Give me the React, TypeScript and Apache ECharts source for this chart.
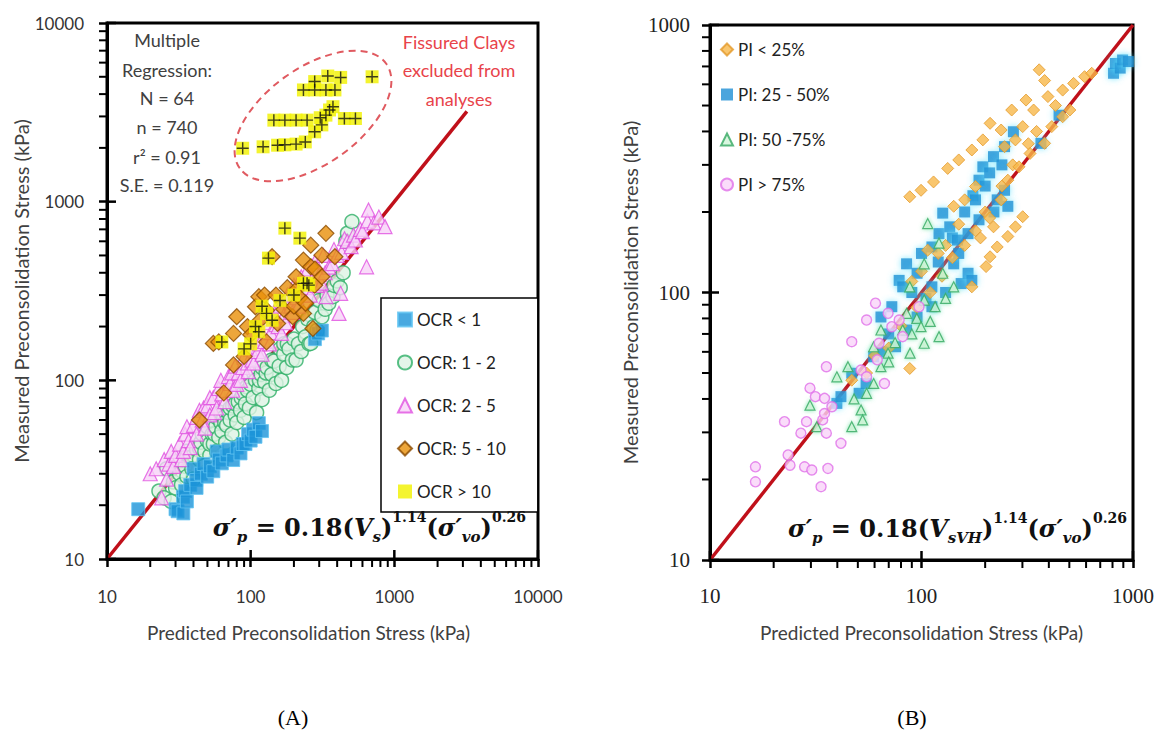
import React, { useEffect, useRef } from "react";
import * as echarts from "echarts";

// ---------- Panel A data: [predicted, measured] (kPa) ----------
const ocrLt1 = [[16.5,19],[30,19],[31,18.5],[34,18],[33.8,22.3],[35,24],[36,21],[38,26],[40,32],[41.8,27.7],[42,25],[45,30],[47,34],[49.8,28.9],[52,33],[55,31],[58,40],[60,36],[63,34.3],[68,38],[70,41],[75.6,35.8],[80,42],[85,39],[88,44],[92,44],[96,50],[100,46],[104,53],[108,48.3],[114,57.6],[120,52],[280,170],[295,183],[313,190]];
const ocr1to2 = [[23,24],[25,22],[26,32],[28,21],[29,27],[30,25],[30,35],[32,30],[33,26],[35,33],[36,29],[36,40],[38,37],[39,32],[40,28],[42,41],[44,36],[44,42],[45,45],[46,50],[47,33],[48,40],[50,46],[50,55],[52,38],[52,44],[54,50],[55,44],[56,50],[57,55],[58,40],[58,62],[60,48],[62,58],[62,66],[63,52],[65,62],[66,58],[67,45],[68,56],[70,66],[72,60],[72,70],[74,50],[75,72],[78,64],[78,74],[80,58],[82,76],[85,68],[86,80],[88,84],[90,62],[92,74],[94,92],[95,88],[98,70],[100,95],[104,80],[105,110],[108,100],[110,66],[114,90],[115,100],[118,108],[120,78],[120,118],[125,98],[128,110],[130,118],[135,88],[140,108],[140,130],[145,128],[150,96],[158,120],[160,150],[164,100],[170,140],[170,160],[178,118],[180,160],[185,150],[195,130],[200,170],[207,130],[215,160],[225,145],[230,200],[240,175],[250,220],[255,160],[262,161],[275,200],[280,240],[290,190],[300,280],[313,227],[330,250],[340,300],[350,270],[374,294],[380,340],[400,360],[420,330],[440,400],[460,600],[472,665],[507,773]];
const ocr2to5 = [[20,30],[22,32],[24,22],[25,36],[26,28],[27,34],[28,40],[29,33],[30,38],[32,44],[33,36],[34,40],[35,50],[36,55],[37,46],[38,42],[40,56],[42,50],[42,62],[44,68],[46,60],[47,70],[48,54],[50,72],[52,64],[52,80],[55,80],[56,66],[58,70],[60,90],[62,100],[63,84],[66,76],[68,88],[70,105],[72,96],[74,110],[75,88],[78,120],[80,95],[82,110],[85,100],[88,118],[90,135],[95,125],[96,112],[100,150],[102,130],[105,125],[108,170],[112,145],[115,160],[118,190],[120,140],[125,165],[130,210],[135,160],[138,185],[145,240],[150,205],[155,200],[160,260],[164,183],[170,230],[175,210],[180,300],[190,260],[195,240],[200,340],[210,290],[215,260],[225,380],[230,300],[240,330],[250,420],[260,300],[265,360],[280,460],[290,340],[300,390],[310,350],[320,500],[330,400],[334,294],[350,430],[370,450],[380,540],[400,500],[412,237],[423,307],[430,520],[450,620],[470,600],[500,560],[520,650],[536,610],[580,700],[600,680],[641,432],[650,780],[661,898],[720,760],[780,820],[861,725]];
const ocr5to10 = [[44,60],[55,161],[60,164],[65,85],[76,122],[76,183],[80,227],[90,136],[95,200],[100,180],[108,258],[114,294],[115,215],[125,300],[129,247],[129,164],[141,492],[150,300],[154,208],[170,250],[180,330],[196,227],[200,260],[207,320],[207,380],[220,290],[233,237],[233,471],[241,270],[262,432],[262,571],[271,195],[279,341],[280,420],[313,380],[313,502],[334,665],[386,492]];
const ocrGt10 = [[63,164],[90,150],[100,160],[108,200],[114,187],[120,260],[129,237],[133,483],[141,217],[160,280],[173,711],[200,300],[220,625],[233,349],[247,350],[254,341]];
const fissuredClays = [[88,1990],[122,2028],[145,2860],[154,2070],[173,2080],[173,2860],[207,2100],[207,2860],[233,4220],[240,2160],[247,2860],[279,2460],[279,4220],[279,4700],[305,2950],[313,2690],[334,3050],[334,4220],[344,5050],[354,3260],[374,3400],[386,4220],[423,4960],[449,2920],[536,2920],[700,5000]];

// ---------- Panel B data ----------
const piLt25 = [[46.8,47],[55,50],[60,58],[70,62],[80,75],[88,52],[88,228],[90,110],[95,88],[99.5,241],[100,120],[107,144],[110,100],[114,259],[120,140],[125,115],[130,150],[133,291],[140,135],[142,210],[150,180],[150,313],[160,150],[160,222],[173,105],[173,341],[180,170],[180,249],[190,160],[195,372],[200,200],[202,125],[210,190],[211,136],[211,429],[219,176],[228,148],[238,222],[238,405],[240,250],[247,351],[256,162],[256,263],[267,481],[270,300],[278,176],[278,372],[289,295],[301,192],[301,417],[312,524],[320,360],[326,331],[339,481],[350,400],[360,680],[382,361],[382,620],[396,540],[413,417],[430,500],[465,454],[465,571],[503,481],[524,605],[590,641],[638,660]];
const pi25to50 = [[39.8,38.5],[41.6,40.8],[46.8,49.9],[50.7,42],[54.7,45.7],[59.4,57.5],[64.3,81],[65,60],[70,70],[72.4,88.5],[75.4,62.7],[78.4,111],[81.5,105],[85,72.4],[85,128],[90,100],[95.3,81],[95.3,118],[100,140],[105,95],[112,88.5],[112,105],[112,148],[120,130],[121,166],[126,198],[130,100],[136,176],[140,160],[142,128],[148,157],[150,140],[154,108],[160,200],[166,118],[166,166],[173,111],[175,230],[180,222],[187,187],[187,263],[195,295],[200,250],[210,280],[219,322],[220,200],[228,222],[240,300],[247,241],[247,351],[256,210],[272,399],[367,361],[447,460],[809,660],[826,718],[870,690],[893,740],[950,730]];
const pi50to75 = [[29.7,37.9],[32,31.5],[39.8,48.4],[44.9,52.8],[46.8,31.5],[48,40],[51.8,36.4],[52.7,33.4],[55,42],[59.4,45.7],[59.4,62.7],[64.3,52.8],[64.3,72.4],[69.5,59.3],[70,55],[75,65],[81.5,72.4],[85,83.6],[88,105],[88.3,59.3],[90,70],[95,80],[99.5,74.5],[103,64.6],[103,93.7],[103,128],[107,181],[110,78],[116,88.5],[121,68.4],[121,153],[126,118],[130,95],[142,105]];
const piGt75 = [[16.4,19.6],[16.4,22.3],[22.5,32.9],[23.4,24.7],[23.9,22.6],[26.9,29.8],[28,22.3],[28.6,32.9],[29.7,43.9],[30.3,21.7],[31.5,40.8],[33.5,18.8],[34.1,33.4],[34.8,35.3],[34.8,40.2],[35.5,29.8],[35.5,52.8],[36.1,22],[37.7,37.4],[41.6,27.3],[46.8,65.5],[51.8,51.3],[55,48.4],[55,78.9],[60.6,91.2],[61.8,56],[63,64.6],[66.8,45.7],[69.5,83.6],[72.4,74.5],[78.4,78.9],[81.5,68.4],[97.3,88.5]];

// 1:1 lines
const diagonalA = [10, 3200];
const diagonalB = [10, 1000];

// axis ranges and tick values
const rangeA = [10, 10000];
const rangeB = [10, 1000];
const majorTicksA = [10, 100, 1000, 10000];
const majorTicksB = [10, 100, 1000];
const minorTicksA = [20,30,40,50,60,70,80,90,200,300,400,500,600,700,800,900,2000,3000,4000,5000,6000,7000,8000,9000];
const minorTicksB = [20,30,40,50,60,70,80,90,200,300,400,500,600,700,800,900];

const legendA = ["OCR < 1", "OCR: 1 - 2", "OCR: 2 - 5", "OCR: 5 - 10", "OCR > 10"];
const legendB = ["PI < 25%", "PI: 25 - 50%", "PI: 50 -75%", "PI > 75%"];

const regressionLines = ["Multiple", "Regression:", "N = 64", "n = 740", "r² = 0.91", "S.E. = 0.119"];
const fissuredLines = ["Fissured Clays", "excluded from", "analyses"];

const SANS = "Lato, 'Open Sans', sans-serif";
const SERIF = "'Liberation Serif', 'DejaVu Serif', serif";
const MATH = "'DejaVu Serif', 'Liberation Serif', serif";

function axisCommon(range: number[], labelFont: any, margin: number) {
  return {
    type: "log",
    logBase: 10,
    min: range[0],
    max: range[1],
    axisLine: { lineStyle: { color: "#000", width: 3 } },
    axisTick: { show: true, inside: false, length: 8, lineStyle: { color: "#000", width: 2.5 } },
    axisLabel: { ...labelFont, margin, formatter: (v: number) => String(v) },
    splitLine: { show: false },
    nameLocation: "middle",
  };
}

const formulaRich = {
  a: { fontFamily: MATH, fontStyle: "italic", fontWeight: "bold", fontSize: 24, lineHeight: 34, verticalAlign: "middle", fill: "#111" },
  n: { fontFamily: MATH, fontWeight: "bold", fontSize: 24, lineHeight: 34, verticalAlign: "middle", fill: "#111" },
  sup: { fontFamily: MATH, fontWeight: "bold", fontSize: 14, lineHeight: 15, verticalAlign: "top", fill: "#111" },
  sub: { fontFamily: MATH, fontStyle: "italic", fontWeight: "bold", fontSize: 15, lineHeight: 14, verticalAlign: "bottom", fill: "#111" },
};

export default function App() {
  const ref = useRef<HTMLDivElement>(null);
  useEffect(() => {
    if (!ref.current) return;
    const chart = echarts.init(ref.current, null, { renderer: "svg" });
    const labelA = { fontFamily: SANS, fontSize: 17, color: "#333" };
    const labelB = { fontFamily: SERIF, fontSize: 21, color: "#222" };
    const nameStyle = { fontFamily: SANS, fontSize: 19, color: "#404040" };
    const nameStyleY = { fontFamily: SANS, fontSize: 20, color: "#404040" };

    const baseGraphics: any[] = [
      ...regressionLines.map((t, i) => ({
        type: "text",
        x: 167,
        y: [40, 70, 98, 127, 157, 185][i],
        style: { text: t, align: "center", verticalAlign: "middle", fontFamily: SANS, fontSize: 18, fill: "#404040" },
        z: 10,
      })),
      ...fissuredLines.map((t, i) => ({
        type: "text",
        x: 459,
        y: [42, 70, 99][i],
        style: { text: t, align: "center", verticalAlign: "middle", fontFamily: SANS, fontSize: 18, fill: "#E8434A" },
        z: 10,
      })),
      {
        type: "ellipse",
        x: 313,
        y: 116,
        rotation: 0.62,
        shape: { cx: 0, cy: 0, rx: 90, ry: 48 },
        style: { fill: "none", stroke: "#E05A60", lineWidth: 2, lineDash: [7, 5] },
        z: 10,
      },
      {
        type: "text",
        x: 526,
        y: 527,
        style: {
          text: "{a|σ′}{sub|p}{n| = 0.18(}{a|V}{sub|s}{n|)}{sup|1.14}{n|(}{a|σ′}{sub|vo}{n|)}{sup|0.26}",
          rich: formulaRich,
          align: "right",
          verticalAlign: "middle",
        },
        z: 10,
      },
      {
        type: "text",
        x: 1127,
        y: 528,
        style: {
          text: "{a|σ′}{sub|p}{n| = 0.18(}{a|V}{sub|sVH}{n|)}{sup|1.14}{n|(}{a|σ′}{sub|vo}{n|)}{sup|0.26}",
          rich: formulaRich,
          align: "right",
          verticalAlign: "middle",
        },
        z: 10,
      },
      { type: "text", x: 293, y: 717, style: { text: "(A)", align: "center", verticalAlign: "middle", fontFamily: SERIF, fontSize: 22, fill: "#000" } },
      { type: "text", x: 912, y: 717, style: { text: "(B)", align: "center", verticalAlign: "middle", fontFamily: SERIF, fontSize: 22, fill: "#000" } },
    ];

    const option: any = {
      animation: false,
      backgroundColor: "#fff",
      grid: [
        { left: 107, top: 23, width: 431, height: 536, show: true, borderColor: "#000", borderWidth: 3, backgroundColor: "transparent" },
        { left: 710, top: 25, width: 423, height: 535, show: true, borderColor: "#000", borderWidth: 3, backgroundColor: "transparent" },
      ],
      xAxis: [
        { ...axisCommon(rangeA, labelA, 29), gridIndex: 0, name: "Predicted Preconsolidation Stress (kPa)", nameGap: 64, nameTextStyle: { ...nameStyle, padding: [0, 28, 0, 0] } },
        { ...axisCommon(rangeB, labelB, 25), gridIndex: 1, name: "Predicted Preconsolidation Stress (kPa)", nameGap: 63, nameTextStyle: nameStyle },
      ],
      yAxis: [
        { ...axisCommon(rangeA, labelA, 23), gridIndex: 0, name: "Measured Preconsolidation Stress (kPa)", nameGap: 71, nameTextStyle: nameStyleY },
        { ...axisCommon(rangeB, labelB, 20), gridIndex: 1, name: "Measured Preconsolidation Stress (kPa)", nameGap: 70, nameTextStyle: nameStyleY },
      ],
      legend: [
        {
          data: legendA.map((n) => ({ name: n })),
          orient: "vertical",
          left: 381,
          top: 298,
          padding: [13, 32, 12, 16],
          itemGap: 26,
          itemWidth: 14,
          itemHeight: 14,
          borderColor: "#000",
          borderWidth: 1.5,
          backgroundColor: "#fff",
          textStyle: { fontFamily: SANS, fontSize: 17, color: "#222" },
        },
        {
          data: legendB.map((n) => ({ name: n })),
          orient: "vertical",
          left: 720,
          top: 41,
          padding: 0,
          itemGap: 28,
          itemWidth: 12,
          itemHeight: 12,
          textStyle: { fontFamily: SANS, fontSize: 17, color: "#222" },
        },
      ],
      series: [
        // ---- Panel A ----
        { type: "line", xAxisIndex: 0, yAxisIndex: 0, data: diagonalA.map((v) => [v, v]), symbol: "none", lineStyle: { color: "#C0101A", width: 3.5 }, silent: true, z: 1 },
        { name: "OCR: 1 - 2", type: "scatter", xAxisIndex: 0, yAxisIndex: 0, data: ocr1to2, symbol: "circle", symbolSize: 14, itemStyle: { color: "#DDF3E3", borderColor: "#2EAF66", borderWidth: 1.5 }, z: 2 },
        { name: "OCR: 2 - 5", type: "scatter", xAxisIndex: 0, yAxisIndex: 0, data: ocr2to5, symbol: "triangle", symbolSize: 14, itemStyle: { color: "#F7D2F7", borderColor: "#E050E0", borderWidth: 1.2 }, z: 2 },
        { name: "OCR < 1", type: "scatter", xAxisIndex: 0, yAxisIndex: 0, data: ocrLt1, symbol: "rect", symbolSize: 13, itemStyle: { color: "#1C93D8", borderColor: "#62C4F2", borderWidth: 1 }, z: 2 },
        { name: "OCR: 5 - 10", type: "scatter", xAxisIndex: 0, yAxisIndex: 0, data: ocr5to10, symbol: "diamond", symbolSize: 16, itemStyle: { color: "#E8900A", borderColor: "#8A4A00", borderWidth: 1.2 }, z: 3 },
        { name: "OCR > 10", type: "scatter", xAxisIndex: 0, yAxisIndex: 0, data: ocrGt10, symbol: "rect", symbolSize: 13, itemStyle: { color: "#F2F20A", opacity: 0.85 }, z: 3 },
        { name: "OCR > 10", type: "scatter", xAxisIndex: 0, yAxisIndex: 0, data: fissuredClays, symbol: "rect", symbolSize: 13, itemStyle: { color: "#F2F20A", opacity: 0.85 }, z: 3 },
        { type: "scatter", xAxisIndex: 0, yAxisIndex: 0, data: ocrGt10.concat(fissuredClays), symbol: "path://M4.4,0h1.2v4.4h4.4v1.2h-4.4v4.4h-1.2v-4.4h-4.4v-1.2h4.4z", symbolSize: 12, itemStyle: { color: "#111" }, silent: true, z: 4 },
        // ---- Panel B ----
        { name: "PI: 25 - 50%", type: "scatter", xAxisIndex: 1, yAxisIndex: 1, data: pi25to50, symbol: "rect", symbolSize: 11, itemStyle: { color: "#1E8FD5", shadowBlur: 6, shadowColor: "rgba(90,225,255,0.9)" }, z: 2 },
        { name: "PI < 25%", type: "scatter", xAxisIndex: 1, yAxisIndex: 1, data: piLt25, symbol: "diamond", symbolSize: 12, itemStyle: { color: "#F7B84A", borderColor: "#E39A2A", borderWidth: 1 }, z: 2 },
        { type: "line", xAxisIndex: 1, yAxisIndex: 1, data: diagonalB.map((v) => [v, v]), symbol: "none", lineStyle: { color: "#C0101A", width: 3.5 }, silent: true, z: 2 },
        { name: "PI: 50 -75%", type: "scatter", xAxisIndex: 1, yAxisIndex: 1, data: pi50to75, symbol: "triangle", symbolSize: 10, itemStyle: { color: "#D0F5D8", borderColor: "#33A860", borderWidth: 1.2, shadowBlur: 4, shadowColor: "rgba(80,220,140,0.8)" }, z: 3 },
        { name: "PI > 75%", type: "scatter", xAxisIndex: 1, yAxisIndex: 1, data: piGt75, symbol: "circle", symbolSize: 10, itemStyle: { color: "#F9D3F9", borderColor: "#E070E8", borderWidth: 1.4 }, z: 3 },
      ],
      graphic: baseGraphics,
    };
    chart.setOption(option);

    // Tick marks placed through each grid's own log scale (convertToPixel), added straight to the renderer
    try {
      const zr = chart.getZr();
      const addLine = (x1: number, y1: number, x2: number, y2: number, w: number) => {
        zr.add(
          new (echarts as any).graphic.Line({
            shape: { x1, y1, x2, y2 },
            style: { stroke: "#000", lineWidth: w },
            z: 100,
            silent: true,
          })
        );
      };
      const addTicks = (gridIndex: number, range: number[], minor: number[], major: number[]) => {
        const lo = range[0];
        minor.forEach((v) => {
          const px = chart.convertToPixel({ gridIndex }, [v, lo]) as number[];
          if (px) addLine(px[0], px[1], px[0], px[1] + 8, 2);
          const py = chart.convertToPixel({ gridIndex }, [lo, v]) as number[];
          if (py) addLine(py[0], py[1], py[0] - 8, py[1], 2);
        });
        major.forEach((v) => {
          const px = chart.convertToPixel({ gridIndex }, [v, lo]) as number[];
          if (px) addLine(px[0], px[1], px[0], px[1] - 9, 2.5);
          const py = chart.convertToPixel({ gridIndex }, [lo, v]) as number[];
          if (py) addLine(py[0], py[1], py[0] + 9, py[1], 2.5);
        });
      };
      addTicks(0, rangeA, minorTicksA, majorTicksA);
      addTicks(1, rangeB, minorTicksB, majorTicksB);
      zr.refreshImmediately && zr.refreshImmediately();
    } catch (e) {
      // keep the chart even if tick drawing fails
    }

    return () => chart.dispose();
  }, []);
  return <div ref={ref} style={{ position: "absolute", left: 0, top: 0, width: 1160, height: 740 }} />;
}
